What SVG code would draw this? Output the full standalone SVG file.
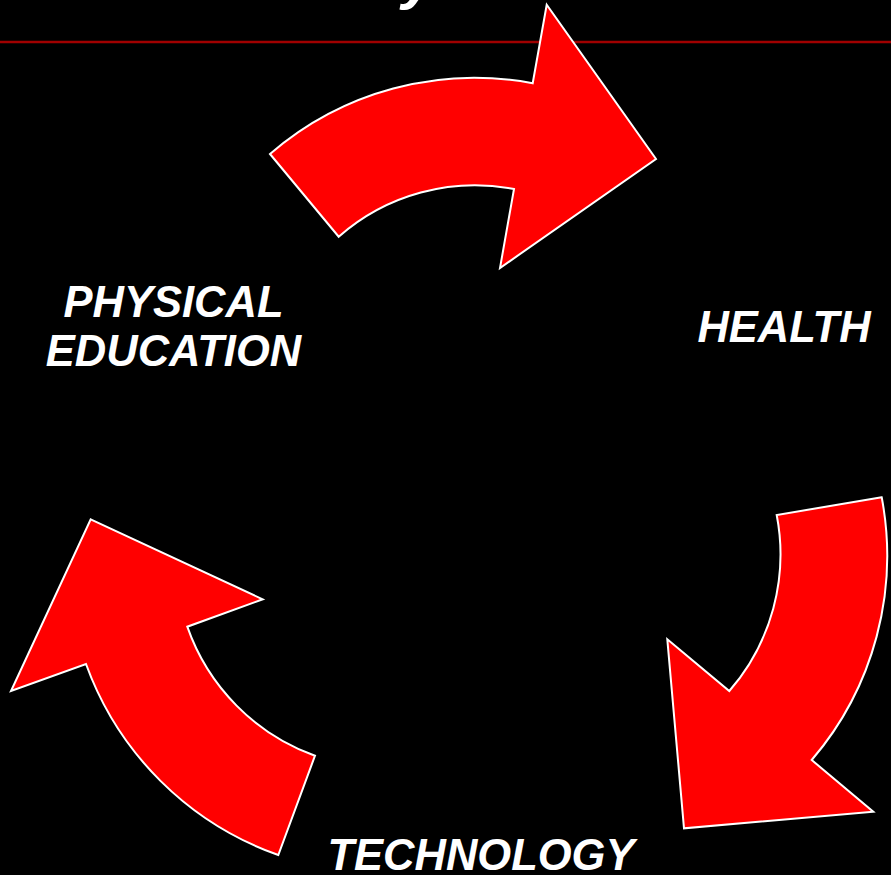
<svg xmlns="http://www.w3.org/2000/svg" width="891" height="875" viewBox="0 0 891 875">
<style>
.arrow{fill:#ff0000;stroke:#ffffff;stroke-width:2;stroke-linejoin:miter}
.lbl{fill:#ffffff;font-family:"Liberation Sans",Arial,sans-serif;font-weight:bold;font-style:italic;font-size:43.5px;text-anchor:middle}
</style>
<rect x="0" y="0" width="891" height="875" fill="#000000"/>
<text x="402" y="-2" fill="#ffffff" font-family="Liberation Sans, Arial, sans-serif" font-weight="bold" font-style="italic" font-size="60">y</text>
<line x1="0" y1="42" x2="891" y2="42" stroke="#a00000" stroke-width="2.5"/>
<g id="connectors">
<path id="arrow-top" class="arrow" d="M270,154 A312,312 0 0 1 532.7,83.3 L546.7,4.7 L656,159 L500,268 L514,189 A206,206 0 0 0 338.7,236.7 Z"/>
<path id="arrow-right" class="arrow" d="M881.7,497.3 L776.7,515 A208,208 0 0 1 729.3,691 L667.3,639.3 L684,828.3 L873.3,811.7 L811.7,760 A314,314 0 0 0 881.7,497.3 Z"/>
<path id="arrow-left" class="arrow" d="M90.7,519.3 L262.7,599.3 L187.3,626.7 A211,211 0 0 0 315,755.7 L278.3,855 A317,317 0 0 1 86,664 L11,691 Z"/>
</g>
<g id="node-pe"><text class="lbl" x="173.5" y="317">PHYSICAL</text><text class="lbl" x="173.5" y="366">EDUCATION</text></g>
<g id="node-health"><text class="lbl" x="784" y="342">HEALTH</text></g>
<g id="node-tech"><text class="lbl" x="481" y="870">TECHNOLOGY</text></g>
</svg>
